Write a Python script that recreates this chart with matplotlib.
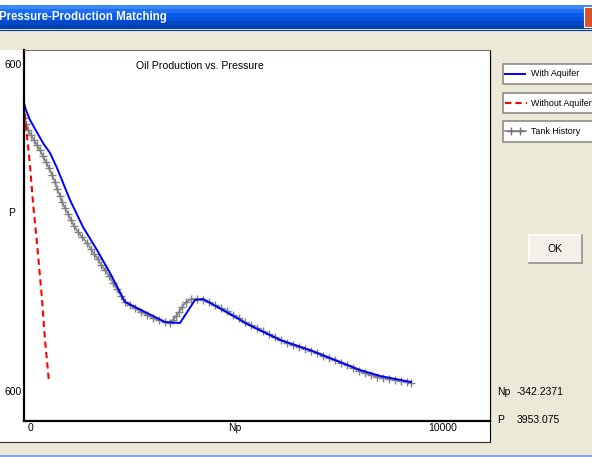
import numpy as np
import matplotlib.pyplot as plt
from matplotlib.patches import Rectangle
from matplotlib.lines import Line2D
from matplotlib.colors import LinearSegmentedColormap
from matplotlib.transforms import ScaledTranslation

plt.rcParams['font.family'] = ['Liberation Sans', 'DejaVu Sans']

# material balance match: cumulative oil Np (STB) vs reservoir pressure P (psia)
np_aquifer = [0, 50, 150, 475, 650, 825, 1150, 1475, 1825, 2150, 2525,
              3525, 3900, 4275, 4475, 5325, 5525, 6400, 7150, 7900, 8400,
              8900, 9675]
p_aquifer = [4128, 4042, 3920, 3638, 3516, 3332, 2940, 2609, 2327, 2046, 1690,
             1445, 1433, 1715, 1727, 1494, 1433, 1225, 1102, 955, 857,
             784, 710]

np_no_aquifer = [0, 50, 150, 225, 325, 450, 525, 625]
p_no_aquifer = [4128, 3834, 3369, 2903, 2413, 1727, 1225, 710]

np_history = [0, 50, 100, 175, 250, 325, 400, 475, 550, 625, 700, 775, 825,
              900, 950, 1025, 1100, 1175, 1250, 1350, 1450, 1575, 1675, 1750,
              1850, 1925, 2025, 2125, 2225, 2325, 2425, 2525, 2650, 2775, 2925,
              3075, 3225, 3375, 3525, 3650, 3725, 3800, 3875, 3950, 4050, 4175,
              4325, 4475, 4625, 4775, 4925, 5075, 5225, 5375, 5525, 5675, 5825,
              5975, 6125, 6275, 6425, 6575, 6725, 6875, 7025, 7175, 7325, 7475,
              7625, 7775, 7925, 8075, 8225, 8375, 8525, 8675, 8825, 8975, 9125,
              9275, 9425, 9575, 9675]
p_history = [3944, 3871, 3797, 3736, 3675, 3614, 3552, 3479, 3405, 3332, 3246,
             3160, 3075, 2989, 2915, 2842, 2768, 2695, 2621, 2548, 2487, 2413,
             2340, 2278, 2217, 2144, 2082, 2009, 1923, 1850, 1764, 1690, 1654,
             1617, 1568, 1531, 1494, 1470, 1445, 1433, 1470, 1519, 1568, 1629,
             1690, 1727, 1727, 1715, 1690, 1654, 1617, 1580, 1531, 1494, 1445,
             1409, 1372, 1335, 1298, 1262, 1225, 1188, 1164, 1139, 1115, 1090,
             1066, 1029, 1004, 980, 943, 919, 882, 845, 821, 796, 772, 759, 747,
             735, 723, 710, 698]

x_ticks = [0, 5000, 10000]
x_tick_labels = ['0', 'Np', '10000']
y_ticks = [600, 4600]
y_tick_labels = ['600', '600']

W, H = 592, 457
BEIGE = '#ECE9D8'
fig = plt.figure(figsize=(W / 100, H / 100), dpi=100)

# dialog chrome, drawn in pixel coordinates
bg = fig.add_axes([0, 0, 1, 1])
bg.axis('off')
bg.add_patch(Rectangle((0, 0), W, H, fc=BEIGE, ec='none', zorder=0))
bg.add_patch(Rectangle((0, 0), W, 5, fc='white', ec='none', zorder=0))
grad = np.array([[0.0], [0.15], [0.4], [0.7], [0.9], [1.0]])
title_cmap = LinearSegmentedColormap.from_list(
    'xp', ['#3d8af7', '#1467f0', '#0a5ce8', '#0658e4', '#0550d8', '#0040b0'])
bg.imshow(grad, cmap=title_cmap, extent=(0, W, 29, 5), aspect='auto',
          zorder=1)
bg.plot([0, W], [29.5, 29.5], color='#0035a0', lw=0.8, zorder=2)
bg.text(-1, 17, 'Pressure-Production Matching', color='white',
        fontsize=8.3, fontweight='bold', va='center', ha='left', zorder=3)
bg.add_patch(Rectangle((583.5, 7), 12, 20, fc='#d8532a', ec='white', lw=0.8,
                       zorder=3))

# white picture box
bg.add_patch(Rectangle((0, 50), 490, 392, fc='white', ec='none', zorder=1))
bg.plot([490, 490], [50, 442], color='black', lw=0.8, zorder=2)
bg.plot([0, 490], [442, 442], color='#303030', lw=0.8, zorder=2)
bg.plot([0, W], [456, 456], color='#6f9be6', lw=1.2, zorder=2)

# legend boxes
legend_rows = [(64, 84, 'With Aquifer'), (93, 113, 'Without Aquifer'),
               (121, 142, 'Tank History')]
for y0, y1, label in legend_rows:
    bg.add_patch(Rectangle((503, y0), 100, y1 - y0, fc='white',
                           ec='#8c8c8c', lw=1.2, zorder=2))
    bg.text(531, (y0 + y1) / 2, label, fontsize=6.4, va='center', ha='left',
            zorder=3)
bg.add_line(Line2D([505, 525], [73.5, 73.5], color='#0000ff', lw=1.4,
                   zorder=3))
bg.add_line(Line2D([505, 527], [103, 103], color='red', lw=1.5,
                   ls=(0, (3, 2)), zorder=3))
bg.add_line(Line2D([505, 526], [131, 131], color='#808080', lw=1.2, zorder=3))
bg.add_line(Line2D([511, 520], [131, 131], color='#707070', lw=0,
                   marker='+', ms=6, mew=1.0, zorder=3))

# OK button
bg.add_patch(Rectangle((529, 235), 53, 28, fc='#f2f0e8', ec='none', zorder=2))
bg.plot([529, 582], [235, 235], color='white', lw=1.2, zorder=3)
bg.plot([529, 529], [235, 263], color='white', lw=1.2, zorder=3)
bg.plot([529, 582], [263, 263], color='#909090', lw=1.2, zorder=3)
bg.plot([582, 582], [235, 263], color='#909090', lw=1.2, zorder=3)
bg.text(555.5, 249, 'OK', fontsize=7.5, ha='center', va='center', zorder=3)

# cursor readout
bg.text(497, 392, 'Np', fontsize=7.5, va='center', zorder=3)
bg.text(517, 392, '-342.2371', fontsize=7.5, va='center', zorder=3)
bg.text(497, 420, 'P', fontsize=7.5, va='center', zorder=3)
bg.text(517, 420, '3953.075', fontsize=7.5, va='center', zorder=3)

bg.set_xlim(0, W)
bg.set_ylim(H, 0)

# chart
ax = fig.add_axes([24 / W, 1 - 421 / H, (490 - 24) / W, (421 - 50) / H])
ax.set_facecolor('white')
ax.plot(np_history, p_history, color='#8a8a8a', lw=1.3,
        marker='+', ms=5.5, mew=1.0, mec='#808080')
ax.plot(np_no_aquifer, p_no_aquifer, color='red', lw=1.5, ls=(0, (3, 2)))
ax.plot(np_aquifer, p_aquifer, color='#0000ff', lw=1.4)
ax.set_xlim(0, 11650)
ax.set_ylim(232.5, 4777)

for side in ['left', 'bottom']:
    ax.spines[side].set_linewidth(1.6)
    ax.spines[side].set_color('black')
ax.spines['top'].set_color('#707070')
ax.spines['top'].set_linewidth(0.8)
ax.spines['right'].set_color('black')
ax.spines['right'].set_linewidth(0.8)

ax.set_xticks(x_ticks, x_tick_labels)
ax.set_yticks(y_ticks, y_tick_labels)
ax.tick_params(length=0, labelsize=7.5, pad=1.5)
shift = ScaledTranslation(4 / 100, 0, fig.dpi_scale_trans)
for lbl in ax.get_xticklabels():
    lbl.set_ha('left')
    lbl.set_transform(lbl.get_transform() + shift)

ax.set_ylabel('P', rotation=0, fontsize=7.5, va='center', ha='center')
ax.yaxis.set_label_coords(-12 / 466, (421 - 213) / 371)
ax.text((200 - 24) / 466, (421 - 66) / 371, 'Oil Production vs. Pressure',
        transform=ax.transAxes, fontsize=7.6, ha='center', va='center')

fig.savefig('out.png', dpi=100)
